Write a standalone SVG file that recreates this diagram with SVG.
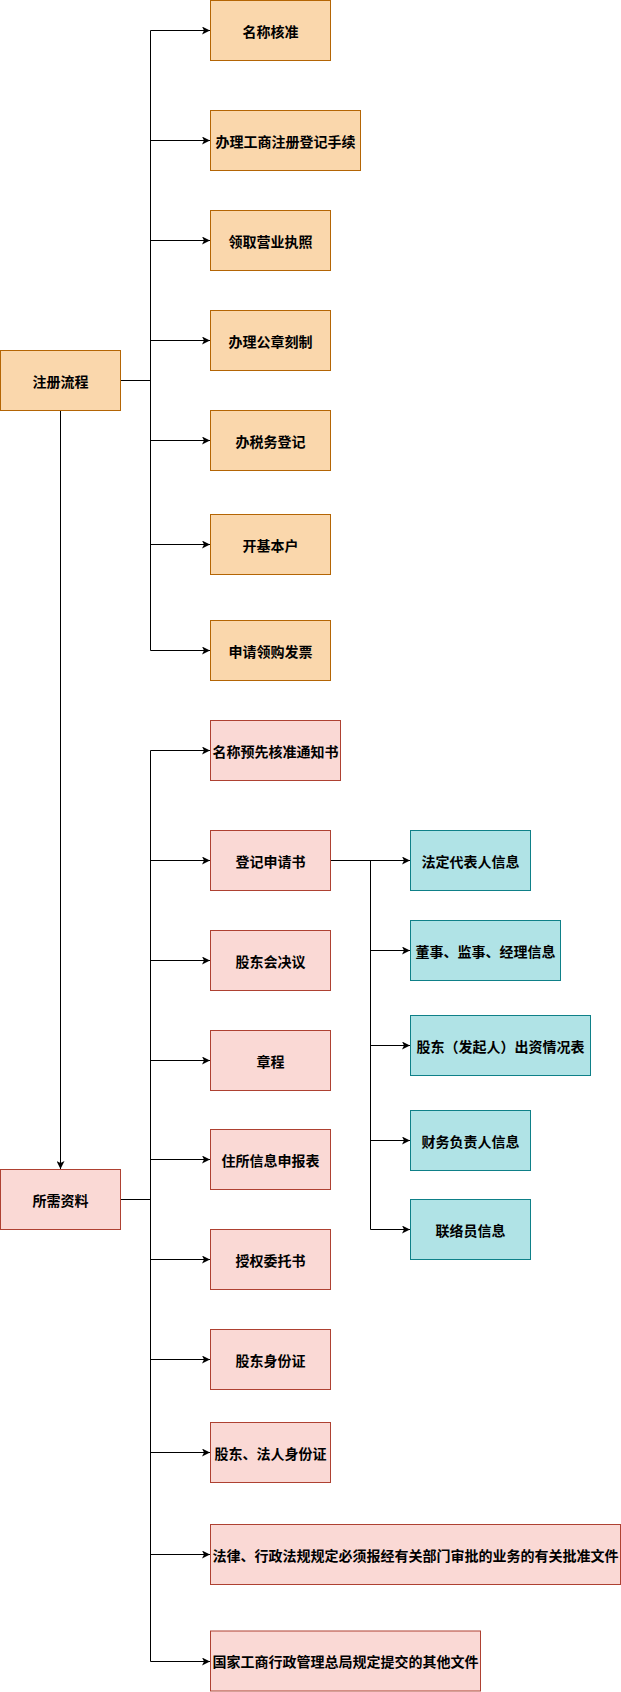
<svg xmlns="http://www.w3.org/2000/svg" width="621" height="1692" viewBox="0 0 621 1692">
<style>
.o{fill:#fad7ac;stroke:#b46504;stroke-width:1}
.p{fill:#fad9d5;stroke:#ae4132;stroke-width:1}
.t{fill:#b0e3e6;stroke:#0e8088;stroke-width:1}
text{font-family:"Noto Sans CJK SC","Noto Sans",sans-serif;font-size:14px;font-weight:bold;fill:#000;text-anchor:middle;dominant-baseline:central}
.e{fill:none;stroke:#000;stroke-width:1}
</style>
<defs>
<marker id="a" viewBox="0 0 10 10" refX="10" refY="5" markerWidth="8" markerHeight="8" markerUnits="userSpaceOnUse" orient="auto">
<path d="M0,0 L10,5 L0,10 L2.5,5 z" fill="#000"/>
</marker>
</defs>
<g id="connectors">
<path class="e" marker-end="url(#a)" d="M120.5,380.5 H150.5 V30.5 H210"/>
<path class="e" marker-end="url(#a)" d="M120.5,380.5 H150.5 V140.5 H210"/>
<path class="e" marker-end="url(#a)" d="M120.5,380.5 H150.5 V240.5 H210"/>
<path class="e" marker-end="url(#a)" d="M120.5,380.5 H150.5 V340.5 H210"/>
<path class="e" marker-end="url(#a)" d="M120.5,380.5 H150.5 V440.5 H210"/>
<path class="e" marker-end="url(#a)" d="M120.5,380.5 H150.5 V544.5 H210"/>
<path class="e" marker-end="url(#a)" d="M120.5,380.5 H150.5 V650.5 H210"/>
<path class="e" marker-end="url(#a)" d="M60.5,410.5 V1169"/>
<path class="e" marker-end="url(#a)" d="M120.5,1199.5 H150.5 V750.5 H210"/>
<path class="e" marker-end="url(#a)" d="M120.5,1199.5 H150.5 V860.5 H210"/>
<path class="e" marker-end="url(#a)" d="M120.5,1199.5 H150.5 V960.5 H210"/>
<path class="e" marker-end="url(#a)" d="M120.5,1199.5 H150.5 V1060.5 H210"/>
<path class="e" marker-end="url(#a)" d="M120.5,1199.5 H150.5 V1159.5 H210"/>
<path class="e" marker-end="url(#a)" d="M120.5,1199.5 H150.5 V1259.5 H210"/>
<path class="e" marker-end="url(#a)" d="M120.5,1199.5 H150.5 V1359.5 H210"/>
<path class="e" marker-end="url(#a)" d="M120.5,1199.5 H150.5 V1452.5 H210"/>
<path class="e" marker-end="url(#a)" d="M120.5,1199.5 H150.5 V1554.5 H210"/>
<path class="e" marker-end="url(#a)" d="M120.5,1199.5 H150.5 V1661.5 H210"/>
<path class="e" marker-end="url(#a)" d="M330.5,860.5 H370.5 V860.5 H410"/>
<path class="e" marker-end="url(#a)" d="M330.5,860.5 H370.5 V950.5 H410"/>
<path class="e" marker-end="url(#a)" d="M330.5,860.5 H370.5 V1045.5 H410"/>
<path class="e" marker-end="url(#a)" d="M330.5,860.5 H370.5 V1140.5 H410"/>
<path class="e" marker-end="url(#a)" d="M330.5,860.5 H370.5 V1229.5 H410"/>
</g>
<g id="n-zhuce"><rect class="o" x="0.5" y="350.5" width="120" height="60"/><text x="60.5" y="380.5">注册流程</text></g>
<g id="n-mingcheng"><rect class="o" x="210.5" y="0.5" width="120" height="60"/><text x="270.5" y="30.5">名称核准</text></g>
<g id="n-gongshang"><rect class="o" x="210.5" y="110.5" width="150" height="60"/><text x="285.5" y="140.5">办理工商注册登记手续</text></g>
<g id="n-zhizhao"><rect class="o" x="210.5" y="210.5" width="120" height="60"/><text x="270.5" y="240.5">领取营业执照</text></g>
<g id="n-gongzhang"><rect class="o" x="210.5" y="310.5" width="120" height="60"/><text x="270.5" y="340.5">办理公章刻制</text></g>
<g id="n-shuiwu"><rect class="o" x="210.5" y="410.5" width="120" height="60"/><text x="270.5" y="440.5">办税务登记</text></g>
<g id="n-jiben"><rect class="o" x="210.5" y="514.5" width="120" height="60"/><text x="270.5" y="544.5">开基本户</text></g>
<g id="n-fapiao"><rect class="o" x="210.5" y="620.5" width="120" height="60"/><text x="270.5" y="650.5">申请领购发票</text></g>
<g id="n-ziliao"><rect class="p" x="0.5" y="1169.5" width="120" height="60"/><text x="60.5" y="1199.5">所需资料</text></g>
<g id="n-tongzhi"><rect class="p" x="210.5" y="720.5" width="130" height="60"/><text x="275.5" y="750.5">名称预先核准通知书</text></g>
<g id="n-shenqing"><rect class="p" x="210.5" y="830.5" width="120" height="60"/><text x="270.5" y="860.5">登记申请书</text></g>
<g id="n-jueyi"><rect class="p" x="210.5" y="930.5" width="120" height="60"/><text x="270.5" y="960.5">股东会决议</text></g>
<g id="n-zhangcheng"><rect class="p" x="210.5" y="1030.5" width="120" height="60"/><text x="270.5" y="1060.5">章程</text></g>
<g id="n-zhusuo"><rect class="p" x="210.5" y="1129.5" width="120" height="60"/><text x="270.5" y="1159.5">住所信息申报表</text></g>
<g id="n-shouquan"><rect class="p" x="210.5" y="1229.5" width="120" height="60"/><text x="270.5" y="1259.5">授权委托书</text></g>
<g id="n-gudongid"><rect class="p" x="210.5" y="1329.5" width="120" height="60"/><text x="270.5" y="1359.5">股东身份证</text></g>
<g id="n-farenid"><rect class="p" x="210.5" y="1422.5" width="120" height="60"/><text x="270.5" y="1452.5">股东、法人身份证</text></g>
<g id="n-pizhun"><rect class="p" x="210.5" y="1524.5" width="410" height="60"/><text x="415.5" y="1554.5">法律、行政法规规定必须报经有关部门审批的业务的有关批准文件</text></g>
<g id="n-qita"><rect class="p" x="210.5" y="1631" width="270" height="60"/><text x="345.5" y="1661">国家工商行政管理总局规定提交的其他文件</text></g>
<g id="n-fading"><rect class="t" x="410.5" y="830.5" width="120" height="60"/><text x="470.5" y="860.5">法定代表人信息</text></g>
<g id="n-dongshi"><rect class="t" x="410.5" y="920.5" width="150" height="60"/><text x="485.5" y="950.5">董事、监事、经理信息</text></g>
<g id="n-chuzi"><rect class="t" x="410.5" y="1015.5" width="180" height="60"/><text x="500.5" y="1045.5">股东（发起人）出资情况表</text></g>
<g id="n-caiwu"><rect class="t" x="410.5" y="1110.5" width="120" height="60"/><text x="470.5" y="1140.5">财务负责人信息</text></g>
<g id="n-lianluo"><rect class="t" x="410.5" y="1199.5" width="120" height="60"/><text x="470.5" y="1229.5">联络员信息</text></g>
</svg>
